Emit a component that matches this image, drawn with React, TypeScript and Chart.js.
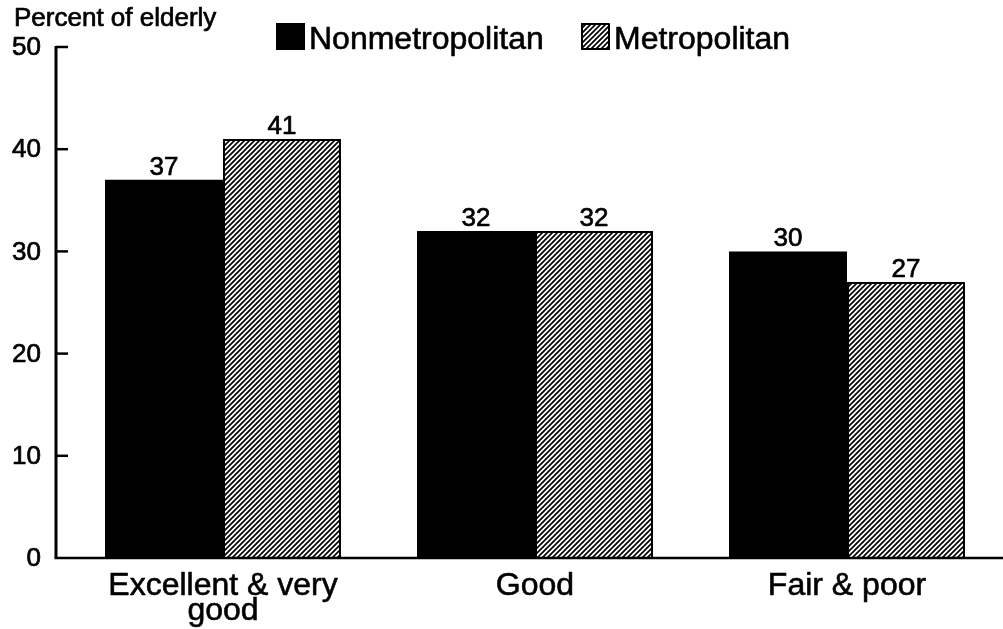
import React, { useEffect, useRef } from "react";
import { Chart, registerables } from "chart.js";

Chart.register(...registerables);

const categories: string[][] = [["Excellent & very", "good"], ["Good"], ["Fair & poor"]];
const seriesNames = ["Nonmetropolitan", "Metropolitan"];
const nonmetroValues = [37, 32, 30];
const metroValues = [41, 32, 27];
const yTickValues = [0, 10, 20, 30, 40, 50];
const yAxisTitle = "Percent of elderly";

const FONT = '"Liberation Sans", Arial, Helvetica, sans-serif';

function makeHatch(): CanvasPattern | string {
  const p = 5;
  const c = document.createElement("canvas");
  c.width = p;
  c.height = p;
  const g = c.getContext("2d");
  if (!g) return "#888";
  g.fillStyle = "#fff";
  g.fillRect(0, 0, p, p);
  g.strokeStyle = "#000";
  g.lineWidth = 1.7;
  g.beginPath();
  g.moveTo(-1, p + 1);
  g.lineTo(p + 1, -1);
  g.moveTo(-1, 1);
  g.lineTo(1, -1);
  g.moveTo(p - 1, p + 1);
  g.lineTo(p + 1, p - 1);
  g.stroke();
  const pat = g.createPattern(c, "repeat");
  return pat || "#888";
}

function boldText(ctx: CanvasRenderingContext2D, s: string, x: number, y: number, w = 0.7) {
  ctx.fillText(s, x, y);
  ctx.lineWidth = w;
  ctx.strokeStyle = "#000";
  ctx.strokeText(s, x, y);
}

export default function App() {
  const ref = useRef<HTMLCanvasElement | null>(null);

  useEffect(() => {
    document.body.style.margin = "0";
    const canvas = ref.current;
    if (!canvas) return;
    const hatch = makeHatch();

    const decor = {
      id: "decor",
      afterDatasetsDraw(chart: any) {
        const ctx = chart.ctx as CanvasRenderingContext2D;
        const y = chart.scales.y;
        const x = chart.scales.x;
        ctx.save();
        ctx.lineJoin = "round";
        // data labels
        ctx.fillStyle = "#000";
        ctx.font = `26px ${FONT}`;
        ctx.textAlign = "center";
        ctx.textBaseline = "alphabetic";
        chart.data.datasets.forEach((ds: any, di: number) => {
          const meta = chart.getDatasetMeta(di);
          meta.data.forEach((bar: any, i: number) => {
            boldText(ctx, String(ds.data[i]), bar.x, bar.y - 5);
          });
        });

        const axisX = chart.chartArea.left - 11;
        const y0 = y.getPixelForValue(0);
        const yTop = y.getPixelForValue(50);
        // y axis line
        ctx.strokeStyle = "#000";
        ctx.lineWidth = 3;
        ctx.beginPath();
        ctx.moveTo(axisX, yTop - 1);
        ctx.lineTo(axisX, y0);
        ctx.stroke();
        // x axis line
        ctx.lineWidth = 2.5;
        ctx.beginPath();
        ctx.moveTo(axisX - 1.5, y0);
        ctx.lineTo(chart.width, y0);
        ctx.stroke();
        // ticks
        ctx.font = `26px ${FONT}`;
        ctx.textAlign = "right";
        ctx.textBaseline = "middle";
        yTickValues.forEach((v) => {
          const py = y.getPixelForValue(v);
          if (v > 0) {
            ctx.lineWidth = 2.5;
            ctx.beginPath();
            ctx.moveTo(axisX, py);
            ctx.lineTo(axisX + 12, py);
            ctx.stroke();
          }
          boldText(ctx, String(v), axisX - 15, py + 1);
        });
        // axis title
        ctx.textAlign = "left";
        ctx.textBaseline = "alphabetic";
        boldText(ctx, yAxisTitle, 14, 26);
        // category labels
        ctx.font = `32px ${FONT}`;
        ctx.textAlign = "center";
        categories.forEach((lines, i) => {
          const px = x.getPixelForValue(i);
          lines.forEach((ln, li) => {
            boldText(ctx, ln, px, 595 + li * 25, 0.6);
          });
        });
        // legend
        const items = [
          { x: 276, fill: "#000", label: seriesNames[0] },
          { x: 581, fill: hatch, label: seriesNames[1] },
        ];
        items.forEach((it) => {
          ctx.fillStyle = it.fill as any;
          ctx.fillRect(it.x, 23, 29, 27);
          if (it.fill !== "#000") {
            ctx.strokeStyle = "#000";
            ctx.lineWidth = 2;
            ctx.strokeRect(it.x + 1, 24, 27, 25);
          }
          ctx.fillStyle = "#000";
          ctx.font = `32px ${FONT}`;
          ctx.textAlign = "left";
          boldText(ctx, it.label, it.x + 33, 49, 0.6);
        });
        ctx.restore();
      },
    };

    const chart = new Chart(canvas, {
      type: "bar",
      data: {
        labels: categories.map((c) => c.join(" ")),
        datasets: [
          {
            label: seriesNames[0],
            data: nonmetroValues,
            backgroundColor: "#000",
            borderWidth: 0,
          },
          {
            label: seriesNames[1],
            data: metroValues,
            backgroundColor: hatch as any,
            borderColor: "#000",
            borderWidth: 2,
          },
        ],
      },
      options: {
        animation: false,
        responsive: true,
        maintainAspectRatio: false,
        layout: { padding: { left: 67, right: 0, top: 47, bottom: 71 } },
        datasets: { bar: { categoryPercentage: 0.7564, barPercentage: 1 } },
        plugins: { legend: { display: false }, tooltip: { enabled: false } },
        scales: {
          x: { display: false, offset: true },
          y: { display: false, min: 0, max: 50 },
        },
      },
      plugins: [decor],
    });
    return () => chart.destroy();
  }, []);

  return (
    <div style={{ position: "absolute", left: 0, top: 0, width: 1003, height: 629, background: "#fff" }}>
      <canvas ref={ref} />
    </div>
  );
}
